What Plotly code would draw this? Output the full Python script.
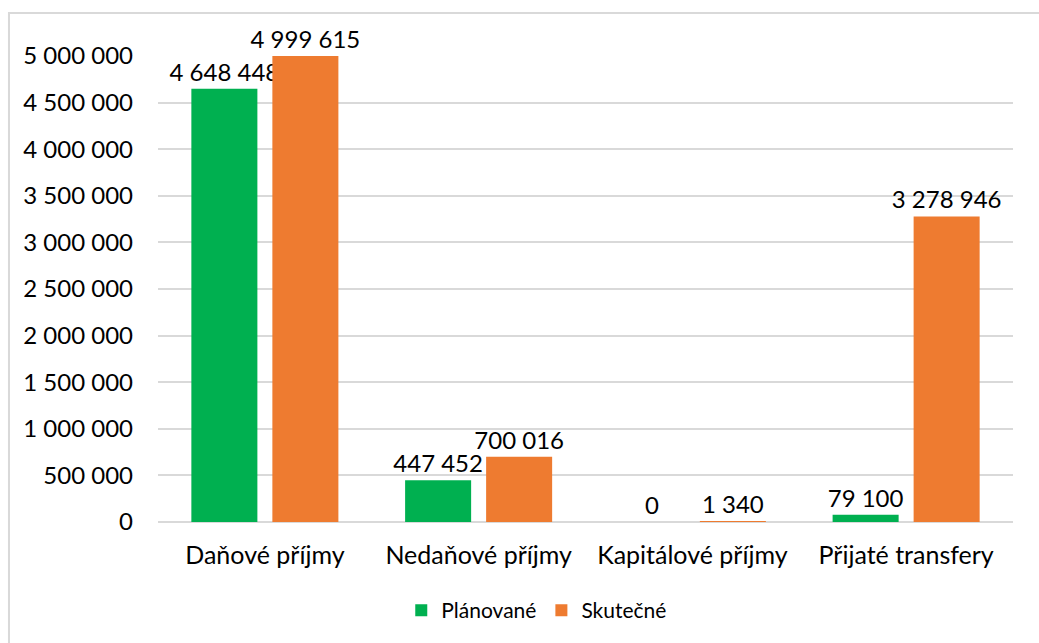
import plotly.graph_objects as go

categories = ["Daňové příjmy", "Nedaňové příjmy", "Kapitálové příjmy", "Přijaté transfery"]
planovane = [4648448, 447452, 0, 79100]
skutecne = [4999615, 700016, 1340, 3278946]
y_ticks = [0, 500000, 1000000, 1500000, 2000000, 2500000, 3000000, 3500000, 4000000, 4500000, 5000000]

FONT = "Lato"
fig = go.Figure()
fig.add_trace(go.Bar(
    name="Plánované", x=categories, y=planovane,
    marker=dict(color="#00B050", line=dict(width=0)),
    texttemplate="%{y:,d}", textposition="outside", cliponaxis=False,
    constraintext="none",
    textfont=dict(family=FONT, size=24, color="#000000"),
))
fig.add_trace(go.Bar(
    name="Skutečné", x=categories, y=skutecne,
    marker=dict(color="#EE7B30", line=dict(width=0)),
    texttemplate="%{y:,d}", textposition="outside", cliponaxis=False,
    constraintext="none",
    textfont=dict(family=FONT, size=24, color="#000000"),
))

fig.update_layout(
    width=1039, height=643,
    margin=dict(l=158, r=26, t=56, b=121),
    paper_bgcolor="white", plot_bgcolor="white",
    separators=". ",
    barmode="group", bargap=0.242, bargroupgap=0.185,
    font=dict(family=FONT, size=24, color="#000000"),
    showlegend=True,
    legend=dict(orientation="h", x=0.443, xanchor="center", y=-0.19, yanchor="middle",
                font=dict(family=FONT, size=21, color="#000000"),
                itemwidth=30, traceorder="normal"),
    xaxis=dict(showline=False, ticks="", tickfont=dict(size=25), ticklabelstandoff=16),
    yaxis=dict(range=[0, 5000000], tickvals=y_ticks, tickformat=",d",
               showgrid=True, gridcolor="#D9D9D9", gridwidth=2,
               zeroline=True, zerolinecolor="#D9D9D9", zerolinewidth=2,
               ticks="", ticklabelstandoff=24, tickfont=dict(size=24)),
    shapes=[dict(type="rect", xref="paper", yref="paper",
                 x0=-0.1743, x1=1.2, y0=-0.5, y1=1.0923,
                 line=dict(color="#D9D9D9", width=2), fillcolor="rgba(0,0,0,0)", layer="below")],
)

fig.write_html("out.html")
